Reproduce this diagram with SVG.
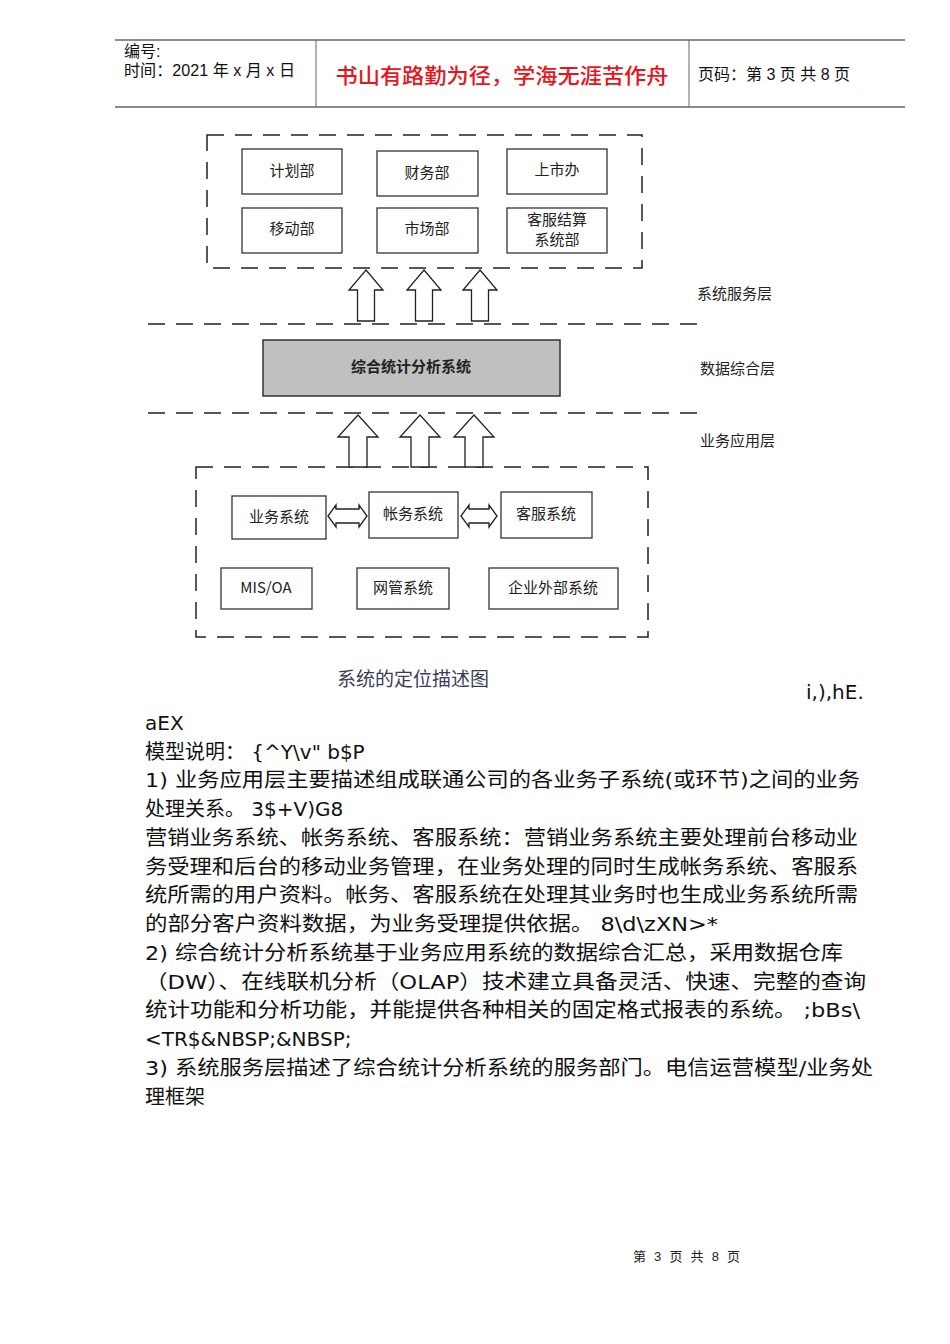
<svg xmlns="http://www.w3.org/2000/svg" width="950" height="1344" viewBox="0 0 950 1344">
<style>
.hdr{font-family:"Liberation Sans","Noto Sans CJK SC",sans-serif;font-size:16px;fill:#111}
.red{font-family:"Noto Sans CJK SC",sans-serif;font-size:21px;fill:#e8141b;font-weight:500}
.box{fill:#fff;stroke:#333;stroke-width:1.3}
.dash{fill:none;stroke:#222;stroke-width:1.5;stroke-dasharray:17 11}
.lbl{font-family:"Noto Sans CJK SC",sans-serif;font-size:15px;fill:#222;text-anchor:middle}
.side{font-family:"Noto Sans CJK SC",sans-serif;font-size:15px;fill:#222}
.arr{fill:#fff;stroke:#222;stroke-width:1.3;stroke-linejoin:miter}
.body{font-family:"DejaVu Sans","Noto Sans CJK SC",sans-serif;font-size:20px;fill:#111}
</style>
<g id="header">
<line x1="115" y1="40" x2="905" y2="40" stroke="#666" stroke-width="1.5"/>
<line x1="115" y1="107" x2="905" y2="107" stroke="#666" stroke-width="1.5"/>
<line x1="316" y1="40" x2="316" y2="107" stroke="#666" stroke-width="1"/>
<line x1="689" y1="40" x2="689" y2="107" stroke="#666" stroke-width="1"/>
<text class="hdr" x="124" y="57">编号:</text>
<text class="hdr" x="124" y="76" textLength="171" lengthAdjust="spacingAndGlyphs">时间：2021 年 x 月 x 日</text>
<text class="red" x="502" y="83" text-anchor="middle" textLength="333" lengthAdjust="spacingAndGlyphs">书山有路勤为径，学海无涯苦作舟</text>
<text class="hdr" x="698" y="80" textLength="152" lengthAdjust="spacingAndGlyphs">页码：第 3 页  共 8 页</text>
</g>
<g id="service-layer-frame"><rect class="dash" x="207" y="135" width="435" height="133"/></g>
<g id="n-jihuabu"><rect class="box" x="242" y="149" width="100" height="45"/><text class="lbl" x="292" y="176">计划部</text></g>
<g id="n-caiwubu"><rect class="box" x="377" y="151" width="101" height="45"/><text class="lbl" x="427" y="178">财务部</text></g>
<g id="n-shangshiban"><rect class="box" x="507" y="149" width="100" height="45"/><text class="lbl" x="557" y="175">上市办</text></g>
<g id="n-yidongbu"><rect class="box" x="242" y="208" width="100" height="45"/><text class="lbl" x="292" y="234">移动部</text></g>
<g id="n-shichangbu"><rect class="box" x="377" y="208" width="101" height="45"/><text class="lbl" x="427" y="234">市场部</text></g>
<g id="n-kefujiesuan"><rect class="box" x="507" y="208" width="100" height="45"/><text class="lbl" x="557" y="225" font-size="14">客服结算</text><text class="lbl" x="557" y="245" font-size="14">系统部</text></g>
<g id="layer-lines">
<line class="dash" x1="148" y1="324" x2="706" y2="324"/>
<line class="dash" x1="148" y1="413" x2="706" y2="413"/>
</g>
<g id="layer-labels">
<text class="side" x="697" y="299">系统服务层</text>
<text class="side" x="700" y="374">数据综合层</text>
<text class="side" x="700" y="446">业务应用层</text>
</g>
<g id="n-zonghe"><rect x="263" y="340" width="297" height="56" fill="#c0c0c0" stroke="#333" stroke-width="1.5"/><text class="lbl" x="411" y="372" font-weight="bold" font-size="16">综合统计分析系统</text></g>
<g id="app-layer-frame"><rect class="dash" x="196" y="467" width="452" height="170"/></g>
<g id="n-yewu"><rect class="box" x="232" y="496" width="94" height="43"/><text class="lbl" x="279" y="522">业务系统</text></g>
<g id="n-zhangwu"><rect class="box" x="369" y="492" width="89" height="46"/><text class="lbl" x="413" y="519">帐务系统</text></g>
<g id="n-kefu"><rect class="box" x="501" y="492" width="91" height="46"/><text class="lbl" x="546" y="519">客服系统</text></g>
<g id="n-misoa"><rect class="box" x="221" y="568" width="91" height="41"/><text class="lbl" x="266" y="593" font-family="Liberation Mono,monospace" font-size="13">MIS/OA</text></g>
<g id="n-wangguan"><rect class="box" x="357" y="568" width="92" height="41"/><text class="lbl" x="403" y="593">网管系统</text></g>
<g id="n-qiye"><rect class="box" x="489" y="568" width="129" height="41"/><text class="lbl" x="553" y="593">企业外部系统</text></g>
<g id="connectors">
<path class="arr" d="M366,270 L383,290 L374.5,290 L374.5,321 L357.5,321 L357.5,290 L349,290 Z"/>
<path class="arr" d="M424,270 L441,290 L432.5,290 L432.5,321 L415.5,321 L415.5,290 L407,290 Z"/>
<path class="arr" d="M480,270 L497,290 L488.5,290 L488.5,321 L471.5,321 L471.5,290 L463,290 Z"/>
<path class="arr" d="M358,415 L378,437 L367,437 L367,467 L349,467 L349,437 L338,437 Z"/>
<path class="arr" d="M420,415 L440,437 L429,437 L429,467 L411,467 L411,437 L400,437 Z"/>
<path class="arr" d="M474,415 L494,437 L483,437 L483,467 L465,467 L465,437 L454,437 Z"/>
<path class="arr" d="M328,516 L336,505 L336,509 L359,509 L359,505 L367,516 L359,527 L359,523 L336,523 L336,527 Z"/>
<path class="arr" d="M461,516 L469,505 L469,509 L489,509 L489,505 L497,516 L489,527 L489,523 L469,523 L469,527 Z"/>
</g>
<g id="caption">
<text x="337" y="686" font-family="Noto Sans CJK SC,sans-serif" font-size="19" fill="#3a3d55">系统的定位描述图</text>
<text class="body" x="806" y="699">i,),hE.</text>
</g>
<g id="body">
<text class="body" x="145" y="730">aEX</text>
<text class="body" x="145" y="759">模型说明：  {^Y\v" b$P</text>
<text class="body" x="145" y="787" textLength="715" lengthAdjust="spacingAndGlyphs">1) 业务应用层主要描述组成联通公司的各业务子系统(或环节)之间的业务</text>
<text class="body" x="145" y="816">处理关系。  3$+V)G8</text>
<text class="body" x="145" y="845" textLength="713" lengthAdjust="spacingAndGlyphs">营销业务系统、帐务系统、客服系统：营销业务系统主要处理前台移动业</text>
<text class="body" x="145" y="874" textLength="713" lengthAdjust="spacingAndGlyphs">务受理和后台的移动业务管理，在业务处理的同时生成帐务系统、客服系</text>
<text class="body" x="145" y="902" textLength="713" lengthAdjust="spacingAndGlyphs">统所需的用户资料。帐务、客服系统在处理其业务时也生成业务系统所需</text>
<text class="body" x="145" y="931" textLength="573" lengthAdjust="spacingAndGlyphs">的部分客户资料数据，为业务受理提供依据。  8\d\zXN&gt;*</text>
<text class="body" x="145" y="960" textLength="698" lengthAdjust="spacingAndGlyphs">2) 综合统计分析系统基于业务应用系统的数据综合汇总，采用数据仓库</text>
<text class="body" x="145" y="989" textLength="721" lengthAdjust="spacingAndGlyphs">（DW）、在线联机分析（OLAP）技术建立具备灵活、快速、完整的查询</text>
<text class="body" x="145" y="1017" textLength="715" lengthAdjust="spacingAndGlyphs">统计功能和分析功能，并能提供各种相关的固定格式报表的系统。  ;bBs\</text>
<text class="body" x="145" y="1046">&lt;TR$&amp;NBSP;&amp;NBSP;</text>
<text class="body" x="145" y="1075" textLength="728" lengthAdjust="spacingAndGlyphs">3) 系统服务层描述了综合统计分析系统的服务部门。电信运营模型/业务处</text>
<text class="body" x="145" y="1104">理框架</text>
</g>
<g id="footer">
<text x="633" y="1261" font-family="Liberation Sans,Noto Sans CJK SC,sans-serif" font-size="13" fill="#222" textLength="107" lengthAdjust="spacing">第 3 页 共 8 页</text>
</g>
</svg>
